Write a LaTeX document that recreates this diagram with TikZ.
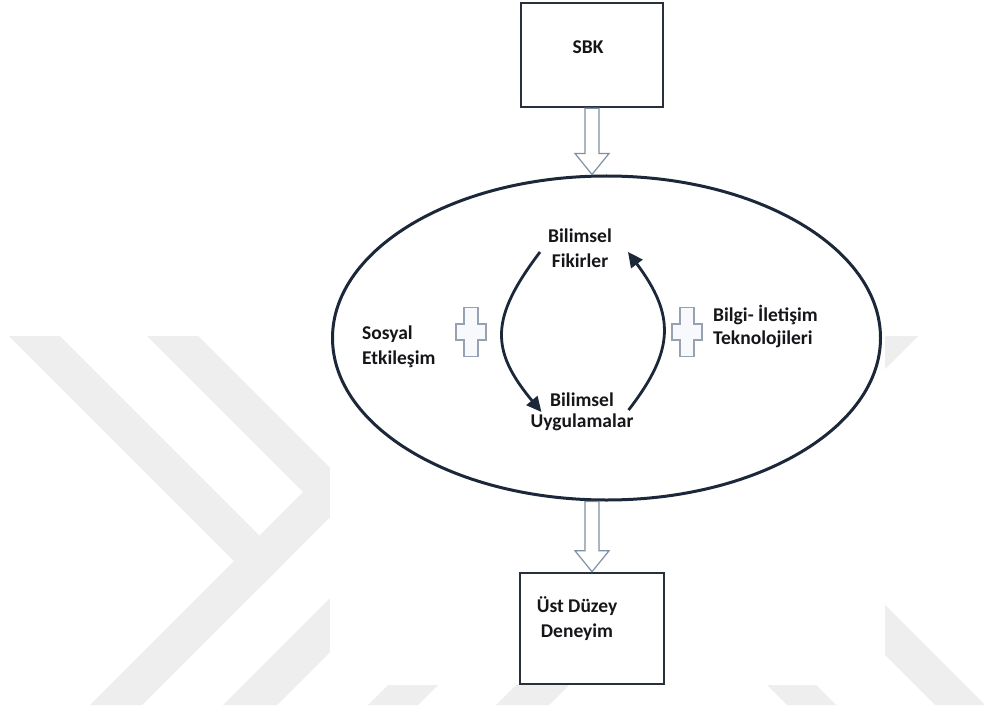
\documentclass[tikz,border=0pt]{standalone}
\usepackage{fontspec}
\setmainfont{Carlito}
\usetikzlibrary{shapes.geometric,arrows.meta,calc}
\definecolor{wmgray}{RGB}{238,238,238}
\definecolor{navy}{RGB}{28,40,58}
\definecolor{boxline}{RGB}{40,48,60}
\definecolor{hollowline}{RGB}{128,144,164}
\definecolor{crossline}{RGB}{150,162,178}
\definecolor{crossfill}{RGB}{247,249,252}
\definecolor{ink}{RGB}{22,22,26}
\tikzset{
  plussign/.pic={
    \draw[crossmark] (-7,-24.5) -- (7,-24.5) -- (7,-8) -- (15,-8) -- (15,8)
      -- (7,8) -- (7,24.5) -- (-7,24.5) -- (-7,8) -- (-15,8) -- (-15,-8)
      -- (-7,-8) -- cycle;
  }
}
\begin{document}
\begin{tikzpicture}[x=1pt,y=-1pt,
  band/.style={fill=wmgray,draw=none},
  box/.style={draw=boxline,line width=2.5pt,fill=white,inner sep=0pt},
  lbl/.style={font=\fontsize{19.5}{25}\selectfont\bfseries,text=ink,inner sep=0pt},
  hollow/.style={draw=hollowline,line width=1.2pt,fill=white,line join=miter},
  cyc/.style={draw=navy,line width=2.8pt,-{Triangle[length=15pt,width=14pt]}},
  crossmark/.style={draw=crossline,line width=1.1pt,fill=crossfill}]

\useasboundingbox (0,0) rectangle (984,711);
\fill[white] (0,0) rectangle (984,711);

% faint chevron bands in the background
\begin{scope}
  \clip (0,336) rectangle (984,705);
  \fill[band] (9,336) -- (60,336) -- (285.5,561.5) -- (260,587) -- cycle;
  \fill[band] (147,336) -- (198,336) -- (422,560) -- (396.5,585.5) -- cycle;
  \fill[band] (90,705) -- (142,705) -- (354.5,492.5) -- (328.5,466.5) -- cycle;
  \fill[band] (223,705) -- (277,705) -- (422,560) -- (369.5,558.5) -- cycle;
  \fill[band] (737,336) -- (787,336) -- (418,705) -- (368,705) -- cycle;
  \fill[band] (865,336) -- (918,336) -- (549,705) -- (496,705) -- cycle;
  \fill[band] (418,336) -- (467,336) -- (836,705) -- (787,705) -- cycle;
  \fill[band] (566,336) -- (616,336) -- (985,705) -- (935,705) -- cycle;
\end{scope}
\fill[white] (330,0) rectangle (885,685);

% boxes and the big ellipse
\node[box,minimum width=142,minimum height=104] (sbk) at (592,55) {};
\node[lbl] (sbklbl) at (588,47.5) {SBK};
\node[draw=navy,line width=3pt,ellipse,minimum width=548,minimum height=324,inner sep=0pt] (ring) at (606.5,338) {};
\node[box,minimum width=144,minimum height=111] (out) at (592,628.5) {};
\node[lbl,align=center] (outlbl) at (577,619) {Üst Düzey\\Deneyim};

% hollow block arrows
\coordinate (t1) at (sbk.south |- ring.north);
\draw[hollow] ($(sbk.south)+(-7,0)$) -- ($(t1)+(-7,-21)$) -- ($(t1)+(-17,-21)$)
  -- (t1) -- ($(t1)+(17,-21)$) -- ($(t1)+(7,-21)$) -- ($(sbk.south)+(7,0)$) -- cycle;
\coordinate (s2) at (out.north |- ring.south);
\draw[hollow] ($(s2)+(-7,0)$) -- ($(out.north)+(-7,-21)$) -- ($(out.north)+(-17,-21)$)
  -- (out.north) -- ($(out.north)+(17,-21)$) -- ($(out.north)+(7,-21)$) -- ($(s2)+(7,0)$) -- cycle;

% labels inside the ellipse
\node[lbl,align=center] (ideas) at (580,248) {Bilimsel\\Fikirler};
\node[lbl,align=center,font=\fontsize{19.5}{21.5}\selectfont\bfseries] (practice) at (582,412) {Bilimsel\\Uygulamalar};
\node[lbl,align=left,anchor=west] (social) at (362,347) {Sosyal\\Etkileşim};
\node[lbl,align=left,anchor=west,font=\fontsize{19.5}{23}\selectfont\bfseries] (ict) at (713,326) {Bilgi- İletişim\\Teknolojileri};

% plus signs
\pic at (471,332) {plussign};
\pic at (687,332) {plussign};

% cycle between ideas and practice
\draw[cyc] ([shift={(-8,4)}]ideas.west) .. controls (490,318) and (490,350) .. ([shift={(11,0)}]practice.west);
\draw[cyc] ([shift={(-5,-2)}]practice.east) .. controls (675,350) and (675,315) .. ([shift={(16,4)}]ideas.east);
\end{tikzpicture}
\end{document}
